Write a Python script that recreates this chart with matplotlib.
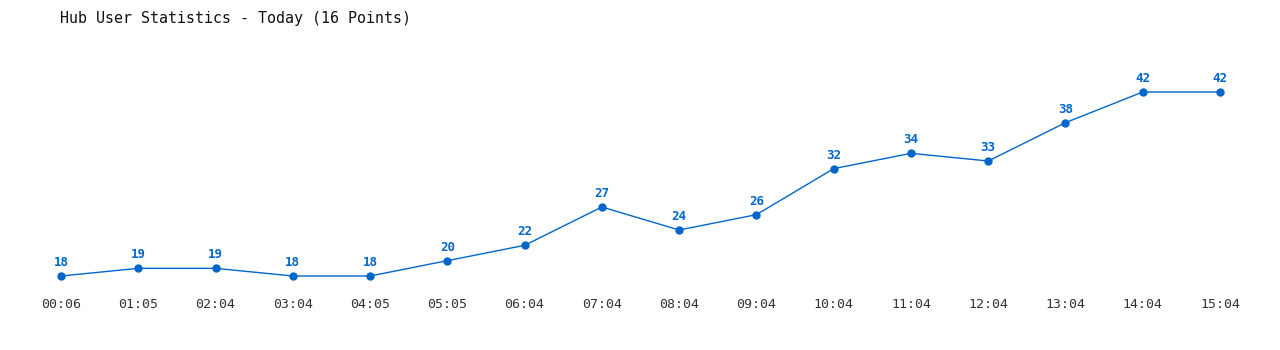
import matplotlib.pyplot as plt

times = ["00:06", "01:05", "02:04", "03:04", "04:05", "05:05", "06:04", "07:04",
         "08:04", "09:04", "10:04", "11:04", "12:04", "13:04", "14:04", "15:04"]
users = [18, 19, 19, 18, 18, 20, 22, 27, 24, 26, 32, 34, 33, 38, 42, 42]

blue = '#0066cc'
plt.rcParams['font.family'] = ['DejaVu Sans Mono']

fig = plt.figure(figsize=(12.8, 3.5), dpi=100)
fig.patch.set_facecolor('white')
ax = fig.add_axes([61 / 1280, 74 / 350, 1159 / 1280, 184 / 350])

x = list(range(len(users)))
ax.plot(x, users, color=blue, linewidth=1, marker='o', markersize=5, clip_on=False)
for xi, v in zip(x, users):
    ax.annotate(str(v), (xi, v), xytext=(0, 5), textcoords='offset points',
                ha='center', va='bottom', fontsize=9, fontweight='bold', color=blue)

ax.set_xlim(0, len(users) - 1)
ax.set_ylim(18, 42)
ax.set_xticks(x)
ax.set_xticklabels(times, fontsize=9.5, color='#333333')
ax.tick_params(axis='x', length=0, pad=16)
ax.set_yticks([])
for s in ax.spines.values():
    s.set_visible(False)

fig.text(60 / 1280, 1 - 18 / 350, "Hub User Statistics - Today (16 Points)",
         fontsize=10.8, color='#111111', ha='left', va='center')

fig.savefig('out.png', dpi=100)
